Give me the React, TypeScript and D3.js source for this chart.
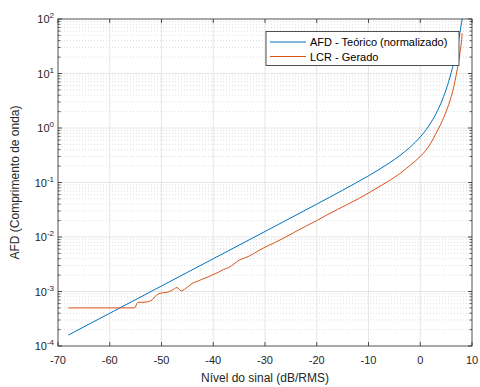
import React from "react";
import * as d3 from "d3";

const xTicks = [-70, -60, -50, -40, -30, -20, -10, 0, 10];
const yDecades = [-4, -3, -2, -1, 0, 1, 2];

const afdLevels = [-68, -60, -50, -40, -30, -20, -15, -10, -8, -6, -4, -2, 0, 1, 2, 3, 4, 5, 6, 6.5, 7, 7.5, 8, 8.2];
const afdValues = [1.588e-4, 3.989e-4, 1.262e-3, 3.99e-3, 1.2623e-2, 4.01e-2, 7.208e-2, 0.13268, 0.1721, 0.22729, 0.30918, 0.44172, 0.68553, 0.89657, 1.22919, 1.79458, 2.8516, 5.0753, 10.5144, 16.25, 26.586, 46.4, 87.19, 114.7];

const lcrLevels = [-68, -55.2, -54.6, -53, -52, -51, -50, -49, -48, -47, -46.2, -45, -44, -43, -42, -41, -40, -39, -38, -37, -36, -35, -34, -33, -32, -31, -30, -28, -26, -24, -22, -20, -18, -16, -14, -12, -10, -8, -6, -4, -2, 0, 1, 2, 3, 4, 5, 6, 6.5, 7, 7.5, 8, 8.1];
const lcrValues = [5.0e-4, 5.0e-4, 6.3e-4, 6.4e-4, 6.8e-4, 8.5e-4, 9.4e-4, 9.6e-4, 1.05e-3, 1.18e-3, 1.03e-3, 1.2e-3, 1.42e-3, 1.55e-3, 1.7e-3, 1.85e-3, 2.05e-3, 2.25e-3, 2.55e-3, 2.75e-3, 3.2e-3, 3.75e-3, 4.1e-3, 4.5e-3, 5.1e-3, 5.8e-3, 6.5e-3, 8.0e-3, 1.0e-2, 1.27e-2, 1.6e-2, 2.0e-2, 2.55e-2, 3.2e-2, 4.0e-2, 5.0e-2, 6.4e-2, 8.3e-2, 0.108, 0.145, 0.205, 0.3, 0.38, 0.52, 0.78, 1.2, 2.0, 3.8, 5.8, 10, 19, 42, 55];

const seriesNames = ["AFD - Teórico (normalizado)", "LCR - Gerado"];
const seriesColors = ["#0072BD", "#D95319"];

export default function App() {
  const W = 480, H = 387;
  const m = { left: 58, right: 8, top: 19, bottom: 41 };
  const x = d3.scaleLinear().domain([-70, 10]).range([m.left, W - m.right]);
  const y = d3.scaleLog().domain([1e-4, 1e2]).range([H - m.bottom, m.top]);
  const x0 = m.left, x1 = W - m.right, y0 = H - m.bottom, y1 = m.top;

  const minors: number[] = [];
  yDecades.slice(0, -1).forEach((d) => {
    for (let k = 2; k <= 9; k++) minors.push(k * Math.pow(10, d));
  });

  const line = d3
    .line<[number, number]>()
    .x((d) => x(d[0]))
    .y((d) => y(d[1]))
    .curve(d3.curveMonotoneX);

  const afd: [number, number][] = afdLevels.map((l, i) => [l, afdValues[i]]);
  const lcr: [number, number][] = lcrLevels.map((l, i) => [l, lcrValues[i]]);

  const axisCol = "#262626";
  const font = "Liberation Sans, Arial, sans-serif";

  return (
    <svg width={W} height={H} style={{ position: "absolute", left: 0, top: 0, background: "#fff" }} fontFamily={font}>
      <defs>
        <clipPath id="plotclip">
          <rect x={x0} y={y1} width={x1 - x0} height={y0 - y1} />
        </clipPath>
      </defs>
      <rect x={0} y={0} width={W} height={H} fill="#fff" />
      {minors.map((v, i) => (
        <line key={"mg" + i} x1={x0} x2={x1} y1={y(v)} y2={y(v)} stroke="#c8c8c8" strokeWidth={0.6} strokeDasharray="1,2" />
      ))}
      {xTicks.slice(1, -1).map((t) => (
        <line key={"gx" + t} x1={x(t)} x2={x(t)} y1={y1} y2={y0} stroke="#e0e0e0" strokeWidth={0.8} />
      ))}
      {yDecades.slice(1, -1).map((d) => (
        <line key={"gy" + d} x1={x0} x2={x1} y1={y(Math.pow(10, d))} y2={y(Math.pow(10, d))} stroke="#e0e0e0" strokeWidth={0.8} />
      ))}
      <g clipPath="url(#plotclip)">
        <path d={line(afd) || ""} fill="none" stroke={seriesColors[0]} strokeWidth={1} />
        <path d={line(lcr) || ""} fill="none" stroke={seriesColors[1]} strokeWidth={1} />
      </g>
      <rect x={x0} y={y1} width={x1 - x0} height={y0 - y1} fill="none" stroke={axisCol} strokeWidth={0.8} />
      {xTicks.map((t) => (
        <g key={"xt" + t}>
          <line x1={x(t)} x2={x(t)} y1={y0} y2={y0 - 4} stroke={axisCol} strokeWidth={0.8} />
          <line x1={x(t)} x2={x(t)} y1={y1} y2={y1 + 4} stroke={axisCol} strokeWidth={0.8} />
          <text x={x(t)} y={y0 + 18} textAnchor="middle" fontSize={11} fill={axisCol}>{t}</text>
        </g>
      ))}
      {yDecades.map((d) => (
        <g key={"yt" + d}>
          <line x1={x0} x2={x0 + 4} y1={y(Math.pow(10, d))} y2={y(Math.pow(10, d))} stroke={axisCol} strokeWidth={0.8} />
          <line x1={x1} x2={x1 - 4} y1={y(Math.pow(10, d))} y2={y(Math.pow(10, d))} stroke={axisCol} strokeWidth={0.8} />
          <text x={x0 - 4} y={y(Math.pow(10, d)) + 4} textAnchor="end" fontSize={11} fill={axisCol}>
            10<tspan dy={-5} fontSize={8}>{d}</tspan>
          </text>
        </g>
      ))}
      {minors.map((v, i) => (
        <g key={"ym" + i}>
          <line x1={x0} x2={x0 + 2.5} y1={y(v)} y2={y(v)} stroke={axisCol} strokeWidth={0.7} />
          <line x1={x1} x2={x1 - 2.5} y1={y(v)} y2={y(v)} stroke={axisCol} strokeWidth={0.7} />
        </g>
      ))}
      <text x={(x0 + x1) / 2} y={H - 5} textAnchor="middle" fontSize={12} fill={axisCol}>Nível do sinal (dB/RMS)</text>
      <text transform={`translate(19,${(y0 + y1) / 2}) rotate(-90)`} textAnchor="middle" fontSize={12} fill={axisCol}>AFD (Comprimento de onda)</text>
      <g>
        <rect x={266} y={31.5} width={193} height={34} fill="#fff" stroke={axisCol} strokeWidth={0.8} />
        {seriesNames.map((n, i) => (
          <g key={"lg" + i}>
            <line x1={270} x2={306} y1={42 + i * 14.5} y2={42 + i * 14.5} stroke={seriesColors[i]} strokeWidth={1} />
            <text x={310} y={46 + i * 14.5} fontSize={11} fill="#000">{n}</text>
          </g>
        ))}
      </g>
    </svg>
  );
}
